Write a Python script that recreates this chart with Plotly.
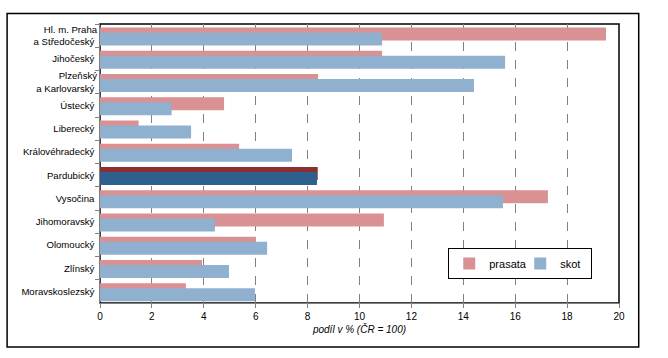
import plotly.graph_objects as go

categories = [
    "Hl. m. Praha<br>a Středočeský", "Jihočeský", "Plzeňský<br>a Karlovarský", "Ústecký",
    "Liberecký", "Královéhradecký", "Pardubický", "Vysočina", "Jihomoravský",
    "Olomoucký", "Zlínský", "Moravskoslezský",
]
prasata = [19.5, 10.87, 8.4, 4.78, 1.49, 5.36, 8.39, 17.26, 10.94, 6.01, 3.93, 3.31]
skot = [10.87, 15.61, 14.41, 2.76, 3.51, 7.4, 8.36, 15.53, 4.43, 6.44, 4.97, 5.97]
x_ticks = [0, 2, 4, 6, 8, 10, 12, 14, 16, 18, 20]
highlight = "Pardubický"

PINK, PINK_DARK = "#d99193", "#8e2f2f"
BLUE, BLUE_DARK = "#8fb0cf", "#2e5f8e"

pink_colors = [PINK_DARK if c == highlight else PINK for c in categories]
blue_colors = [BLUE_DARK if c == highlight else BLUE for c in categories]

fig = go.Figure()
fig.add_trace(go.Bar(
    y=categories, x=prasata, orientation="h", name="prasata",
    marker=dict(color=pink_colors, line=dict(width=0)),
    width=0.56, offset=-0.35,
))
fig.add_trace(go.Bar(
    y=categories, x=skot, orientation="h", name="skot",
    marker=dict(color=blue_colors, line=dict(width=0)),
    width=0.56, offset=-0.13,
))

fig.update_layout(
    width=668, height=358,
    margin=dict(l=100, r=49, t=24, b=55, autoexpand=False),
    paper_bgcolor="white", plot_bgcolor="white",
    barmode="overlay",
    font=dict(family="Liberation Sans, Arial, sans-serif", size=10, color="#000"),
    showlegend=True,
    legend=dict(
        orientation="h", x=0.671, y=0.197, xanchor="left", yanchor="top",
        bordercolor="black", borderwidth=1, bgcolor="white",
        font=dict(size=11), traceorder="normal",
        itemwidth=30, entrywidth=26,
    ),
    xaxis=dict(
        range=[0, 20], tickvals=x_ticks, ticktext=[str(v) for v in x_ticks],
        showgrid=True, gridcolor="#808080", griddash="dash", gridwidth=1,
        showline=True, linecolor="#808080", linewidth=1,
        ticks="outside", ticklen=4, tickcolor="#808080",
        zeroline=False, automargin=False,
        title=dict(text="<i>podíl v % (ČR = 100)</i>", font=dict(size=10), standoff=4),
        tickfont=dict(size=10),
    ),
    yaxis=dict(
        autorange="reversed", automargin=False,
        showline=True, linecolor="#808080", linewidth=1,
        ticks="outside", ticklen=4, tickcolor="#808080", tickson="boundaries",
        showgrid=False, tickfont=dict(size=9.6), ticksuffix=" ",
    ),
    shapes=[
        dict(type="rect", xref="paper", yref="paper", x0=0, x1=1, y0=0, y1=1,
             line=dict(color="black", width=1.5), layer="below"),
        dict(type="rect", xref="paper", yref="paper", x0=-0.179, x1=1.038, y0=-0.158, y1=1.038,
             line=dict(color="black", width=1.5), layer="below"),
    ],
)

fig.write_html(
    "out.html",
    config={"displayModeBar": False},
    post_script="document.body.style.margin='0';document.body.style.padding='0';",
)
